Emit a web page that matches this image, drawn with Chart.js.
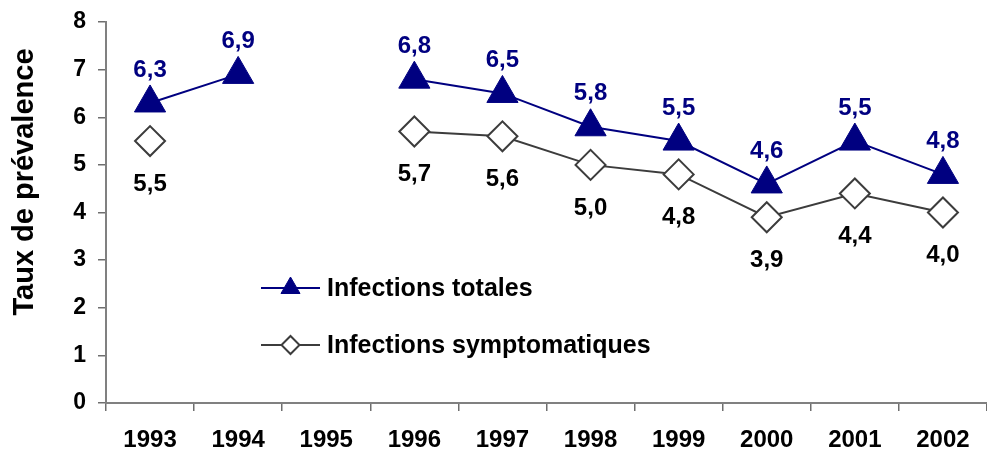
<!DOCTYPE html>
<html>
<head>
<meta charset="utf-8">
<script src="https://cdn.jsdelivr.net/npm/chart.js@4/dist/chart.umd.min.js"></script>
<style>
  html, body { margin: 0; padding: 0; background: #fff; overflow: hidden; }
  #wrap { width: 987px; height: 458px; position: relative; }
  canvas { display: block; }
</style>
</head>
<body>
<div id="wrap"><canvas id="prevChart"></canvas></div>
<script>
// Data
const years = ["1993", "1994", "1995", "1996", "1997", "1998", "1999", "2000", "2001", "2002"];
const totales = [6.3, 6.9, null, 6.8, 6.5, 5.8, 5.5, 4.6, 5.5, 4.8];
const symptomatiques = [5.5, null, null, 5.7, 5.6, 5.0, 4.8, 3.9, 4.4, 4.0];
const yTicks = [0, 1, 2, 3, 4, 5, 6, 7, 8];
const seriesNames = ["Infections totales", "Infections symptomatiques"];
const yTitle = "Taux de prévalence";

const FONT = "'Liberation Sans', Arial, sans-serif";
const NAVY = "#000080";
const GREY = "#3c3c3c";

// value labels: totales above, symptomatiques below, decimal comma
const valueLabels = {
  id: "valueLabels",
  afterDatasetsDraw(chart) {
    const ctx = chart.ctx;
    ctx.save();
    ctx.font = "bold 24px " + FONT;
    ctx.textAlign = "center";
    ctx.textBaseline = "middle";
    chart.data.datasets.forEach((ds, i) => {
      const meta = chart.getDatasetMeta(i);
      meta.data.forEach((pt, j) => {
        const v = ds.data[j];
        if (v === null || v === undefined) return;
        const txt = v.toFixed(1).replace(".", ",");
        if (i === 0) {
          ctx.fillStyle = NAVY;
          ctx.fillText(txt, pt.x, pt.y - 33);
        } else {
          ctx.fillStyle = "#000";
          ctx.fillText(txt, pt.x, pt.y + 43);
        }
      });
    });
    ctx.restore();
  }
};

// legend drawn inside the plot area
const insideLegend = {
  id: "insideLegend",
  afterDraw(chart) {
    const ctx = chart.ctx;
    const x0 = 261, x1 = 320, tx = 327;
    const rows = [288, 345];
    ctx.save();
    chart.data.datasets.forEach((ds, i) => {
      const y = rows[i];
      ctx.strokeStyle = ds.borderColor;
      ctx.lineWidth = ds.borderWidth;
      ctx.beginPath();
      ctx.moveTo(x0, y);
      ctx.lineTo(x1, y);
      ctx.stroke();
      ctx.fillStyle = ds.pointBackgroundColor;
      ctx.strokeStyle = ds.pointBorderColor;
      ctx.lineWidth = ds.pointBorderWidth;
      Chart.helpers.drawPoint(ctx, {
        pointStyle: ds.pointStyle,
        radius: i === 0 ? 11 : 9,
        borderWidth: ds.pointBorderWidth,
        rotation: 0
      }, (x0 + x1) / 2, y);
      ctx.fillStyle = "#000";
      ctx.font = "bold 25px " + FONT;
      ctx.textAlign = "left";
      ctx.textBaseline = "middle";
      ctx.fillText(ds.label, tx, y + 1);
    });
    ctx.restore();
  }
};

// rotated y axis title
const axisTitle = {
  id: "axisTitle",
  afterDraw(chart) {
    const ctx = chart.ctx;
    ctx.save();
    ctx.translate(25, 182);
    ctx.rotate(-Math.PI / 2);
    ctx.font = "bold 29px " + FONT;
    ctx.fillStyle = "#000";
    ctx.textAlign = "center";
    ctx.textBaseline = "middle";
    ctx.fillText(yTitle, 0, 0);
    ctx.restore();
  }
};

const ctx = document.getElementById("prevChart").getContext("2d");
new Chart(ctx, {
  type: "line",
  data: {
    labels: years,
    datasets: [
      {
        label: seriesNames[0],
        data: totales,
        borderColor: NAVY,
        borderWidth: 2,
        pointStyle: "triangle",
        pointRadius: 18,
        pointBackgroundColor: NAVY,
        pointBorderColor: NAVY,
        pointBorderWidth: 1,
        spanGaps: false,
        tension: 0
      },
      {
        label: seriesNames[1],
        data: symptomatiques,
        borderColor: GREY,
        borderWidth: 2,
        pointStyle: "rectRot",
        pointRadius: 15,
        pointBackgroundColor: "#fff",
        pointBorderColor: GREY,
        pointBorderWidth: 2,
        spanGaps: false,
        tension: 0
      }
    ]
  },
  options: {
    responsive: true,
    maintainAspectRatio: false,
    animation: false,
    layout: { autoPadding: false, padding: { top: 22, right: 0, bottom: 0, left: 0 } },
    plugins: {
      legend: { display: false },
      tooltip: { enabled: false }
    },
    scales: {
      x: {
        type: "category",
        offset: true,
        grid: {
          offset: true,
          drawOnChartArea: false,
          drawTicks: true,
          tickLength: 8,
          color: "#6e6e6e",
          lineWidth: 1.5
        },
        border: { display: true, color: "#808080", width: 2 },
        ticks: {
          color: "#000",
          font: { family: FONT, size: 24, weight: "bold" },
          padding: 15,
          maxRotation: 0,
          autoSkip: false
        },
        afterFit(scale) {
          scale.height = 55;
          scale.paddingLeft = 0;
          scale.paddingRight = 0;
        }
      },
      y: {
        min: 0,
        max: 8,
        afterBuildTicks(scale) { scale.ticks = yTicks.map(v => ({ value: v })); },
        grid: {
          drawOnChartArea: false,
          drawTicks: true,
          tickLength: 8,
          color: "#6e6e6e",
          lineWidth: 1.5
        },
        border: { display: true, color: "#808080", width: 2 },
        ticks: {
          color: "#000",
          font: { family: FONT, size: 23, weight: "bold" },
          padding: 12
        },
        afterFit(scale) {
          scale.width = 106;
          scale.paddingTop = 0;
          scale.paddingBottom = 0;
        }
      }
    }
  },
  plugins: [valueLabels, insideLegend, axisTitle]
});
</script>
</body>
</html>
